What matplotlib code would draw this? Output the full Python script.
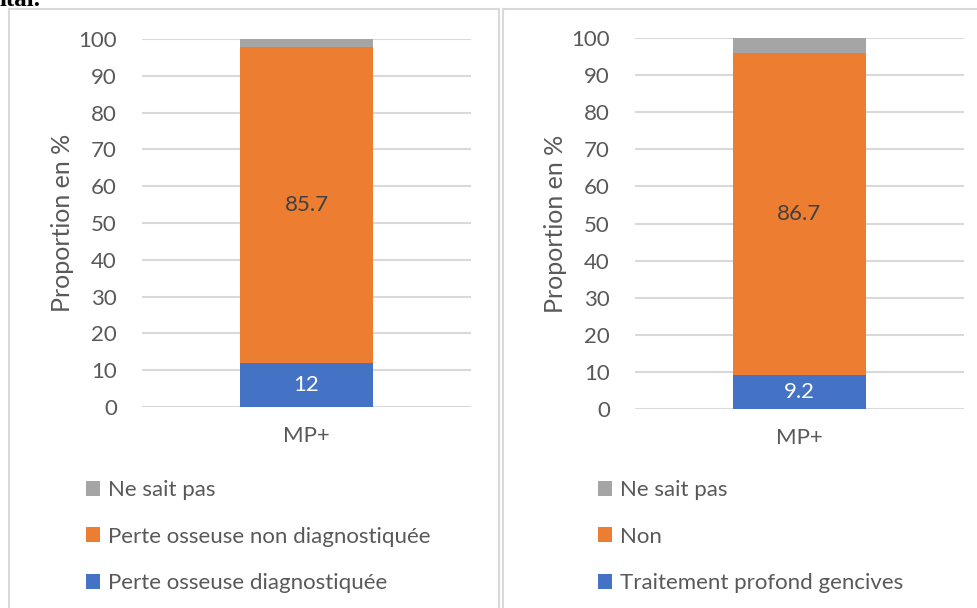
import matplotlib
matplotlib.use("Agg")
from matplotlib import pyplot as plt
from matplotlib.lines import Line2D

plt.rcParams['font.family'] = ['Lato', 'DejaVu Sans']

category = ["MP+"]

# left panel
left_labels = ["Perte osseuse diagnostiquée", "Perte osseuse non diagnostiquée", "Ne sait pas"]
left_values = [12, 85.7, 2.3]

# right panel
right_labels = ["Traitement profond gencives", "Non", "Ne sait pas"]
right_values = [9.2, 86.7, 4.1]

colors = ["#4472c4", "#ed7d31", "#a5a5a5"]
label_colors = ["white", "#404040", None]
text_col = "#595959"
grid_col = "#d9d9d9"

fig = plt.figure(figsize=(9.78, 6.08), dpi=100)

# cut-off text from the page above
fig.text(0.0, 1.0 - 6 / 608, "ital.", family="Liberation Serif", weight="bold",
         fontsize=18, color="black", va="baseline", ha="left")

# panel borders
W, H = 978, 608
def fline(x0, y0, x1, y1):
    fig.add_artist(Line2D([x0 / W, x1 / W], [1 - y0 / H, 1 - y1 / H], color=grid_col, lw=1.5))

fline(9, 9, 9, 608)
fline(9, 9, 499, 9)
fline(499, 9, 499, 608)
fline(503, 9, 503, 608)
fline(503, 9, 978, 9)


def panel(rect, labels, values, ylab_x, legend_xy):
    ax = fig.add_axes(rect)
    bottom = 0
    handles = []
    for lab, v, c, lc in zip(labels, values, colors, label_colors):
        bars = ax.bar(category, [v], bottom=[bottom], width=0.6, color=c, label=lab, zorder=3)
        if lc is not None:
            ax.bar_label(bars, labels=[f"{v:g}"], label_type="center", color=lc, fontsize=16)
        handles.append(bars)
        bottom += v
    ax.set_ylim(0, 100)
    ax.set_xlim(-0.7425, 0.7425)
    ax.set_yticks(range(0, 101, 10))
    ax.yaxis.grid(True, color=grid_col, lw=1.5, zorder=0)
    for s in ax.spines.values():
        s.set_visible(False)
    ax.tick_params(axis="both", length=0, colors=text_col, labelsize=16)
    ax.tick_params(axis="y", pad=18)
    ax.tick_params(axis="x", pad=14)
    ax.set_ylabel("Proportion en %", color=text_col, fontsize=18)
    ax.yaxis.set_label_coords(ylab_x, rect[1] + rect[3] / 2, transform=fig.transFigure)
    leg = fig.legend(handles[::-1], labels[::-1], loc="upper left",
                     bbox_to_anchor=legend_xy, frameon=False, fontsize=16,
                     handlelength=0.65, handleheight=0.65, handletextpad=0.35,
                     labelspacing=1.2, borderaxespad=0, borderpad=0)
    for t in leg.get_texts():
        t.set_color(text_col)
    return ax


panel([142 / W, 1 - 407 / H, 329 / W, 368 / H], left_labels, left_values,
      74 / W, (86 / W, 1 - 480 / H))
panel([635 / W, 1 - 409 / H, 329 / W, 371 / H], right_labels, right_values,
      567 / W, (598 / W, 1 - 480 / H))

fig.savefig("out.png", dpi=100)
